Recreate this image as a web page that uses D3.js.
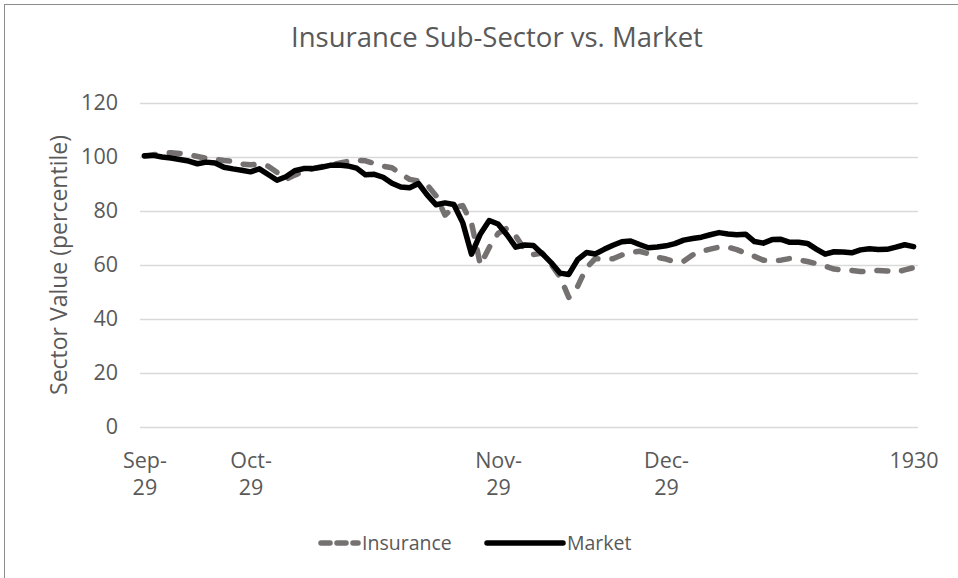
<!DOCTYPE html>
<html>
<head>
<meta charset="utf-8">
<script src="https://cdn.jsdelivr.net/npm/d3@7"></script>
<style>
  body { margin: 0; background: #fff; }
  text { font-family: "Open Sans", sans-serif; fill: #595959; }
</style>
</head>
<body>
<svg width="958" height="578"></svg>
<script>
// values, one per category
var market = [100.5, 100.6, 100.0, 99.6, 99.1, 98.5, 97.5, 98.1, 97.8, 96.2,
  95.6, 95.1, 94.5, 95.6, 93.5, 91.4, 92.7, 94.9, 95.7, 95.7,
  96.2, 96.9, 97.0, 96.7, 95.9, 93.4, 93.6, 92.5, 90.3, 88.9,
  88.6, 90.2, 85.9, 82.3, 83.0, 82.4, 75.7, 64.0, 71.5, 76.5,
  75.2, 71.2, 66.6, 67.4, 67.2, 64.2, 60.9, 57.0, 56.5, 62.0,
  64.6, 64.1, 65.8, 67.3, 68.6, 68.9, 67.6, 66.4, 66.7, 67.1,
  67.9, 69.2, 69.8, 70.3, 71.2, 72.0, 71.5, 71.2, 71.4, 68.7,
  68.1, 69.4, 69.5, 68.4, 68.4, 68.0, 65.9, 64.0, 64.9, 64.8,
  64.5, 65.6, 66.0, 65.7, 65.8, 66.6, 67.5, 66.8];

var insurance = [100.3, 100.8, 101.3, 101.6, 101.3, 100.9, 100.2, 99.5, 99.1, 98.7,
  98.4, 97.4, 97.1, 97.3, 96.6, 94.3, 91.7, 93.3, 94.6, 95.6,
  96.4, 97.0, 97.7, 98.4, 98.8, 98.6, 97.6, 96.6, 96.0, 93.8,
  91.7, 91.1, 89.6, 85.6, 78.5, 81.3, 82.0, 75.5, 60.0, 66.5,
  71.7, 73.6, 70.7, 65.8, 63.9, 64.4, 60.3, 55.7, 48.0, 52.1,
  59.0, 62.4, 62.1, 62.3, 63.7, 64.6, 65.1, 64.2, 62.9, 62.2,
  61.2, 61.4, 63.7, 65.0, 65.9, 66.6, 66.6, 65.7, 64.4, 63.2,
  61.8, 61.5, 61.8, 62.4, 61.9, 61.3, 60.5, 59.6, 58.5, 58.2,
  58.0, 57.6, 57.7, 58.0, 57.8, 57.3, 58.2, 59.0];

var tickLabels = ["Sep-29", "Oct-29", "Nov-29", "Dec-29", "1930"];
var tickAt = [0, 12, 40, 59, 87];
var yTicks = [0, 20, 40, 60, 80, 100, 120];

var svg = d3.select("svg");

// chart border (right and bottom fall outside the picture)
svg.append("rect")
    .attr("x", 4.5).attr("y", 4.5)
    .attr("width", 980).attr("height", 600)
    .attr("fill", "none")
    .attr("stroke", "#8c8c8c");

var x = d3.scalePoint()
    .domain(d3.range(market.length))
    .range([140, 918])
    .padding(0.5);

var y = d3.scaleLinear()
    .domain([0, 120])
    .range([427, 103]);

// gridlines
svg.append("g")
    .attr("transform", "translate(140,0)")
    .call(d3.axisLeft(y).tickValues(yTicks).tickSize(-778).tickFormat(""))
    .call(function(g) { g.select(".domain").remove(); })
    .selectAll("line")
      .attr("stroke", "#d9d9d9")
      .attr("stroke-width", 1.3);

// y tick labels
var yAxis = svg.append("g")
    .attr("transform", "translate(140,0)")
    .call(d3.axisLeft(y).tickValues(yTicks).tickSize(0).tickPadding(22));
yAxis.select(".domain").remove();
yAxis.selectAll("text")
    .style("font-family", "'Open Sans', sans-serif")
    .style("font-size", "21.5px")
    .attr("fill", "#595959");

// x tick labels, split after the hyphen like the original
var xAxis = svg.append("g")
    .attr("transform", "translate(0,427)")
    .call(d3.axisBottom(x).tickValues(tickAt).tickSize(0)
      .tickFormat(function(d) { return tickLabels[tickAt.indexOf(d)]; }));
xAxis.select(".domain").remove();
xAxis.selectAll("text").each(function(d) {
  var t = d3.select(this), s = tickLabels[tickAt.indexOf(d)];
  var parts = s.indexOf("-") > 0 ? [s.split("-")[0] + "-", s.split("-")[1]] : [s];
  t.text(null)
    .attr("dy", null)
    .attr("y", 0)
    .style("font-family", "'Open Sans', sans-serif")
    .style("font-size", "21.5px")
    .attr("fill", "#595959");
  parts.forEach(function(p, k) {
    t.append("tspan").attr("x", 0).attr("y", 41 + k * 27).text(p);
  });
});

var line = d3.line()
    .x(function(d, i) { return x(i); })
    .y(function(d) { return y(d); });

svg.append("path")
    .datum(insurance)
    .attr("fill", "none")
    .attr("stroke", "#767171")
    .attr("stroke-width", 5.5)
    .attr("stroke-linecap", "round")
    .attr("stroke-linejoin", "round")
    .attr("stroke-dasharray", "11,14")
    .attr("d", line);

svg.append("path")
    .datum(market)
    .attr("fill", "none")
    .attr("stroke", "#000")
    .attr("stroke-width", 5.5)
    .attr("stroke-linecap", "round")
    .attr("stroke-linejoin", "round")
    .attr("d", line);

// title
svg.append("text")
    .attr("x", 497).attr("y", 47)
    .attr("text-anchor", "middle")
    .style("font-size", "27.5px")
    .text("Insurance Sub-Sector vs. Market");

// y axis title
svg.append("text")
    .attr("transform", "translate(67,265) rotate(-90)")
    .attr("text-anchor", "middle")
    .style("font-size", "23px")
    .text("Sector Value (percentile)");

// legend
var legend = [
  {name: "Insurance", color: "#767171", dash: "9,7", x: 318, len: 40},
  {name: "Market", color: "#000", dash: null, x: 484, len: 79}
];
var lg = svg.selectAll(".legend").data(legend).enter().append("g")
    .attr("class", "legend")
    .attr("transform", function(d) { return "translate(" + d.x + ",543)"; });
lg.append("line")
    .attr("x1", 3).attr("x2", function(d) { return d.len; })
    .attr("stroke", function(d) { return d.color; })
    .attr("stroke-width", 5.5)
    .attr("stroke-linecap", "round")
    .attr("stroke-dasharray", function(d) { return d.dash; });
lg.append("text")
    .attr("x", function(d) { return d.len + 4; }).attr("y", 7)
    .style("font-size", "19.5px")
    .text(function(d) { return d.name; });
</script>
</body>
</html>
